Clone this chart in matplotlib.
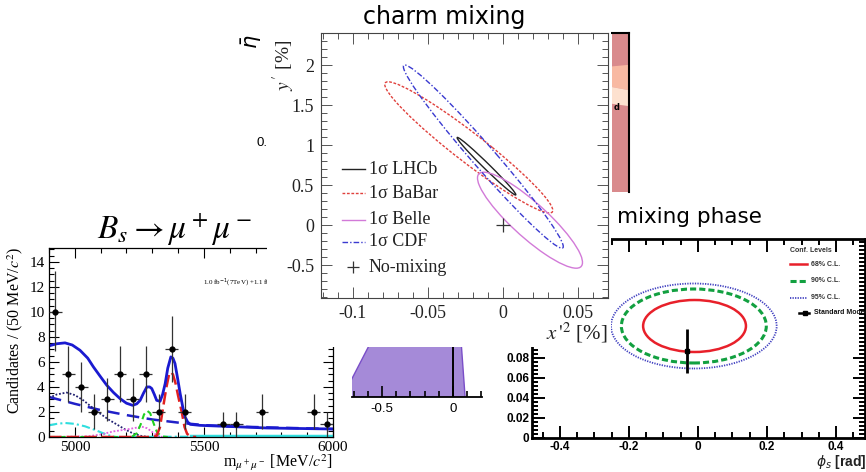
# collage of three flavour-physics results: Bs->mumu, charm mixing, mixing phase
import numpy as np
import matplotlib
matplotlib.use("Agg")
import matplotlib.pyplot as plt
from matplotlib.patches import Ellipse, Rectangle, Polygon
from matplotlib.ticker import MultipleLocator

W, H = 866, 472

# --- Bs -> mu+ mu- mass fit
bs_mass = [4925, 4975, 5025, 5075, 5125, 5175, 5225, 5275, 5325, 5375, 5425, 5575, 5625, 5725, 5925, 5975]
bs_counts = [10, 5, 4, 2, 3, 5, 3, 5, 2, 7, 2, 1, 1, 2, 2, 1]
bs_err_lo = [3.1, 2.2, 2.0, 1.4, 1.7, 2.2, 1.7, 2.2, 1.4, 2.6, 1.4, 1.0, 1.0, 1.4, 1.4, 1.0]
bs_err_hi = [3.25, 2.3, 2.0, 1.4, 1.75, 2.3, 1.75, 2.3, 1.4, 2.65, 1.4, 1.0, 1.0, 1.4, 1.4, 1.0]

fit_x = [4900, 4930, 4962, 4990, 5020, 5050, 5072, 5100, 5124, 5150, 5175, 5200, 5224, 5240,
         5253, 5266, 5279, 5290, 5298, 5308, 5317, 5330, 5340, 5350, 5360, 5372, 5380, 5388,
         5398, 5408, 5418, 5427, 5437, 5447, 5485, 5600, 5744, 5900, 6000]
fit_y = [7.28, 7.45, 7.52, 7.35, 6.93, 6.3, 5.6, 4.8, 4.13, 3.55, 3.07, 2.7, 2.53, 2.65,
         2.93, 3.5, 4.0, 4.0, 3.87, 3.4, 2.93, 2.85, 3.4, 4.27, 5.5, 6.4, 6.3, 5.87,
         4.7, 3.47, 2.4, 1.6, 1.2, 1.01, 0.93, 0.84, 0.72, 0.67, 0.64]

bsig_x = [4900, 5300, 5317, 5330, 5343, 5355, 5365, 5372, 5380, 5390, 5400, 5414, 5425, 5435, 5450, 5470]
bsig_y = [0, 0, 0.1, 0.8, 2.5, 4.0, 5.0, 5.2, 5.0, 4.3, 3.3, 2.0, 0.8, 0.25, 0.02, 0]

bd_x = [4900, 5220, 5240, 5255, 5268, 5280, 5292, 5305, 5318, 5335, 5360]
bd_y = [0, 0, 0.3, 1.0, 1.8, 2.1, 1.9, 1.1, 0.4, 0.05, 0]

misid_x = [4900, 4930, 4968, 5000, 5033, 5065, 5098, 5130, 5162, 5195, 5227, 5260, 5290]
misid_y = [3.12, 3.4, 3.55, 3.35, 2.93, 2.4, 1.87, 1.4, 1.01, 0.6, 0.27, 0.07, 0]

comb_x = [4900, 5000, 5100, 5200, 5300, 5400, 5500, 5600, 5800, 6000]
comb_y = [3.2, 2.65, 2.15, 1.75, 1.4, 1.15, 0.95, 0.85, 0.74, 0.64]

semi_x = [4900, 4930, 4962, 5000, 5040, 5080, 5110, 5136, 5160, 5450, 6000]
semi_y = [0.93, 1.05, 1.12, 1.05, 0.85, 0.55, 0.3, 0.1, 0.0, 0.03, 0.03]

peak_x = [4900, 5050, 5100, 5150, 5200, 5240, 5260, 5280, 5300, 5320, 5340]
peak_y = [0, 0.05, 0.2, 0.45, 0.6, 0.75, 0.82, 0.7, 0.4, 0.1, 0]

# --- charm mixing 1 sigma contours: centre x'^2, centre y', sigma x, sigma y, correlation
charm_names = ["LHCb", "BaBar", "Belle", "CDF"]
charm_cx = [-0.011, -0.0228, 0.018, -0.0131]
charm_cy = [0.735, 0.97, 0.06, 0.855]
charm_sx = [0.0196, 0.056, 0.035, 0.0533]
charm_sy = [0.36, 0.82, 0.6, 1.145]
charm_rho = [-0.99, -0.96, -0.88, -0.982]
charm_colors = ["#222222", "#e0403c", "#d27ad8", "#3a3ad0"]
charm_styles = ["-", (0, (2, 1.2)), "-", (0, (4, 1.5, 1, 1.5))]

# --- mixing phase confidence regions: centre phi_s, centre dGamma, width, height
cl_labels = ["68% C.L.", "90% C.L.", "95% C.L."]
cl_cx = [-0.01, -0.012, -0.012]
cl_cy = [0.112, 0.112, 0.112]
cl_w = [0.298, 0.42, 0.48]
cl_h = [0.052, 0.074, 0.085]
cl_colors = ["#e8202a", "#12a040", "#4040c0"]
cl_styles = ["-", (0, (2, 1)), (0, (0.7, 0.7))]
cl_widths = [1.8, 2.2, 1.3]
sm_phi, sm_dg, sm_err = -0.033, 0.087, 0.022

# --- purple CKM fragment and pink band fragment
ckm_x = [-0.72, -0.72, -0.47, 0.042, 0.085]
ckm_y = [0, 0.207, 1.1, 1.1, 0]
band_orange = [(0, 0.21), (1, 0.2), (1, 0.36), (0, 0.34)]
band_cream = [(0, 0.34), (1, 0.36), (1, 0.46), (0, 0.445)]


def px_axes(fig, left, top, right, bottom, zorder=1):
    ax = fig.add_axes([left / W, 1 - bottom / H, (right - left) / W, (bottom - top) / H])
    ax.set_zorder(zorder)
    return ax


def fx(x):
    return x / W


def fy(y):
    return 1 - y / H


def cov_ellipse(cx, cy, sx, sy, rho, **kw):
    cov = np.array([[sx ** 2, rho * sx * sy], [rho * sx * sy, sy ** 2]])
    vals, vecs = np.linalg.eigh(cov)
    angle = np.degrees(np.arctan2(vecs[1, 1], vecs[0, 1]))
    return Ellipse((cx, cy), 2 * np.sqrt(vals[1]), 2 * np.sqrt(vals[0]), angle=angle, fill=False, **kw)


def draw_bs(fig):
    ax = px_axes(fig, 49, 248, 333, 437, zorder=1)
    ax.errorbar(bs_mass, bs_counts, yerr=[bs_err_lo, bs_err_hi], xerr=25, fmt="o", ms=3.5,
                color="black", ecolor="#333333", elinewidth=0.9, capsize=0, zorder=5)
    ax.plot(comb_x, comb_y, color="#2020c8", lw=1.8, ls=(0, (5, 3)))
    ax.plot(misid_x, misid_y, color="#202070", lw=1.3, ls=(0, (1, 1)))
    ax.plot(semi_x, semi_y, color="#30dede", lw=1.5, ls=(0, (4, 1.5, 1, 1.5)))
    ax.plot([5450, 6000], [0.04, 0.04], color="#30dede", lw=2.5)
    ax.plot(peak_x, peak_y, color="#e060e0", lw=1.3, ls=(0, (1, 1)))
    ax.plot(bd_x, bd_y, color="#20d020", lw=1.5, ls=(0, (3, 2)))
    ax.plot(bsig_x, bsig_y, color="#e02020", lw=1.8, ls=(0, (5, 2)))
    ax.plot(fit_x, fit_y, color="#1a1ad0", lw=2)
    ax.set_xlim(4900, 6000)
    ax.set_ylim(0, 15.1)
    ax.xaxis.set_major_locator(MultipleLocator(500))
    ax.xaxis.set_minor_locator(MultipleLocator(100))
    ax.yaxis.set_major_locator(MultipleLocator(2))
    ax.yaxis.set_minor_locator(MultipleLocator(0.5))
    ax.tick_params(which="both", direction="in", top=True, right=True, width=0.8,
                   labelsize=11, labelfontfamily="Liberation Serif", pad=3)
    ax.tick_params(which="major", length=7)
    ax.tick_params(which="minor", length=3.5)
    for s in ax.spines.values():
        s.set_linewidth(0.9)
    fig.text(fx(203), fy(283), r"1.0 fb$^{-1}$(7TeV) +1.1 fb$^{-1}$(8TeV)", fontsize=5,
             family="Liberation Serif", va="center", zorder=2)
    fig.text(fx(175), fy(230), r"$B_s \rightarrow \mu^+\mu^-$", fontsize=24, ha="center",
             va="center", math_fontfamily="stix", zorder=2)
    fig.text(fx(15), fy(330), r"Candidates / (50 MeV/$c^2$)", rotation=90, fontsize=11.5,
             family="Liberation Serif", ha="center", va="center", math_fontfamily="stix", zorder=2)
    fig.text(fx(333), fy(463), r"m$_{\mu^+\mu^-}$ [MeV/$c^2$]", fontsize=11.5,
             family="Liberation Serif", ha="right", va="center", math_fontfamily="stix", zorder=2)


def draw_ckm(fig):
    ax = px_axes(fig, 352, 320, 482, 397, zorder=1)
    ax.set_xlim(-0.711, 0.204)
    ax.set_ylim(0, 1)
    ax.add_patch(Polygon(list(zip(ckm_x, ckm_y)), closed=True, facecolor="#a58ad8",
                         edgecolor="#7a4ec8", lw=1))
    ax.plot([0, 0], [0, 1.2], color="black", lw=1.4)
    for side in ["left", "top", "right"]:
        ax.spines[side].set_visible(False)
    ax.spines["bottom"].set_linewidth(1.3)
    ax.set_yticks([])
    ax.set_xticks([-0.5, 0])
    ax.set_xticklabels(["-0.5", "0"])
    ax.xaxis.set_minor_locator(MultipleLocator(0.1))
    ax.tick_params(which="both", direction="in", width=1.2, labelsize=9.5,
                   labelfontfamily="Liberation Sans")
    ax.tick_params(which="major", length=8, pad=4)
    ax.tick_params(which="minor", length=4)
    fig.text(fx(252), fy(42), r"$\bar{\eta}$", rotation=90, fontsize=15, ha="center",
             va="center", math_fontfamily="dejavusans", zorder=2)
    fig.text(fx(262), fy(143), "0.", fontsize=9.5, family="Liberation Sans", ha="center",
             va="center", zorder=2)


def draw_pink(fig):
    ax = px_axes(fig, 612, 33, 629, 192, zorder=1)
    ax.set_xlim(0, 1)
    ax.set_ylim(1, 0)
    ax.set_facecolor("#d98a8c")
    ax.add_patch(Polygon(band_orange, closed=True, facecolor="#f8b9a2", edgecolor="none"))
    ax.add_patch(Polygon(band_cream, closed=True, facecolor="#fde1cf", edgecolor="none"))
    ax.set_xticks([])
    ax.set_yticks([])
    ax.spines["left"].set_visible(False)
    ax.spines["bottom"].set_visible(False)
    ax.spines["top"].set_linewidth(1.5)
    ax.spines["right"].set_linewidth(1.5)
    ax.text(0.3, 0.47, "d", fontsize=6, fontweight="bold", ha="center", va="center")


def draw_charm(fig):
    # white sheet of the charm picture lies on top of the others
    fig.patches.append(Rectangle((fx(267), fy(347)), (611 - 267) / W, 347 / H,
                                 transform=fig.transFigure, facecolor="white",
                                 edgecolor="none", zorder=4))
    ax = px_axes(fig, 321, 33, 608, 298, zorder=5)
    for i in range(len(charm_names)):
        ax.add_patch(cov_ellipse(charm_cx[i], charm_cy[i], charm_sx[i], charm_sy[i], charm_rho[i],
                                 edgecolor=charm_colors[i], ls=charm_styles[i], lw=1.0))
    ax.plot([0], [0], marker="+", ms=10, mew=0.9, color="#333333", ls="none")
    ax.set_xlim(-0.1213, 0.07)
    ax.set_ylim(-0.9125, 2.4)
    ax.set_xticks([-0.1, -0.05, 0, 0.05])
    ax.set_xticklabels(["-0.1", "-0.05", "0", "0.05"])
    ax.set_yticks([-0.5, 0, 0.5, 1, 1.5, 2])
    ax.set_yticklabels(["-0.5", "0", "0.5", "1", "1.5", "2"])
    ax.xaxis.set_minor_locator(MultipleLocator(0.01))
    ax.yaxis.set_minor_locator(MultipleLocator(0.1))
    ax.tick_params(which="both", direction="in", top=True, right=True, width=0.7,
                   color="#555555", labelsize=13, labelfontfamily="Liberation Serif",
                   labelcolor="#222222")
    ax.tick_params(which="major", length=8, pad=5)
    ax.tick_params(which="minor", length=4)
    for s in ax.spines.values():
        s.set_linewidth(0.8)
        s.set_color("#444444")

    # hand-placed legend
    rows = [0.70, 0.40, 0.0625, -0.2125]
    for i, name in enumerate(charm_names):
        ax.plot([-0.1073, -0.092], [rows[i], rows[i]], color=charm_colors[i],
                ls=charm_styles[i], lw=1.0)
        ax.text(-0.0895, rows[i], "1\u03c3 " + name, fontsize=13, family="Liberation Serif",
                va="center", color="#222222")
    ax.plot([-0.1], [-0.525], marker="+", ms=8, mew=0.9, color="#333333", ls="none")
    ax.text(-0.0895, -0.525, "No-mixing", fontsize=13, family="Liberation Serif",
            va="center", color="#222222")

    fig.text(fx(444), fy(17), "charm mixing", fontsize=17, ha="center", va="center", zorder=6)
    fig.text(fx(284), fy(65), r"$y\,'$ [%]", rotation=90, fontsize=14, family="Liberation Serif",
             ha="center", va="center", math_fontfamily="stix", zorder=6, color="#222222")
    fig.text(fx(608), fy(333), r"$x\,'^2$ [%]", fontsize=15, family="Liberation Serif",
             ha="right", va="center", math_fontfamily="stix", zorder=6, color="#222222")


def draw_mixing_phase(fig):
    ax = px_axes(fig, 532, 239, 865, 438, zorder=1)
    for i in range(len(cl_labels)):
        ax.add_patch(Ellipse((cl_cx[i], cl_cy[i]), cl_w[i], cl_h[i], fill=False,
                             edgecolor=cl_colors[i], ls=cl_styles[i], lw=cl_widths[i]))
    ax.errorbar([sm_phi], [sm_dg], yerr=sm_err, fmt="s", ms=3, color="black", lw=2, capsize=0)
    ax.set_xlim(-0.481, 0.484)
    ax.set_ylim(0, 0.199)
    ax.set_xticks([-0.4, -0.2, 0, 0.2, 0.4])
    ax.set_xticklabels(["-0.4", "-0.2", "0", "0.2", "0.4"])
    ax.set_yticks([0, 0.02, 0.04, 0.06, 0.08])
    ax.set_yticklabels(["0", "0.02", "0.04", "0.06", "0.08"])
    ax.xaxis.set_minor_locator(MultipleLocator(0.05))
    ax.yaxis.set_minor_locator(MultipleLocator(0.004))
    ax.tick_params(which="both", direction="in", top=True, right=True, width=1.4,
                   labelsize=8.5, labelfontfamily="Liberation Sans", pad=2)
    ax.tick_params(which="major", length=9)
    ax.tick_params(which="minor", length=4.5)
    for lab in ax.get_xticklabels() + ax.get_yticklabels():
        lab.set_fontweight("bold")
    for s in ax.spines.values():
        s.set_linewidth(2)

    # legend drawn by hand in data units
    ax.text(0.267, 0.188, "Conf. Levels", fontsize=5, fontweight="bold", family="Liberation Sans",
            va="center", color="#333333")
    rows = [0.174, 0.157, 0.1405]
    for i, lab in enumerate(cl_labels):
        ax.plot([0.267, 0.316], [rows[i], rows[i]], color=cl_colors[i], ls=cl_styles[i],
                lw=cl_widths[i])
        ax.text(0.328, rows[i], lab, fontsize=5, fontweight="bold", family="Liberation Sans",
                va="center", color="#333333")
    ax.plot([0.294, 0.323], [0.125, 0.125], color="black", lw=1.8)
    ax.plot([0.309], [0.125], marker="s", ms=2.5, color="black")
    ax.text(0.335, 0.125, "Standard Model", fontsize=5, fontweight="bold",
            family="Liberation Sans", va="center", color="#111111")

    fig.text(fx(689), fy(217), "mixing phase", fontsize=15.5, ha="center", va="center", zorder=2)
    fig.text(fx(866), fy(462), r"$\phi_s$ [rad]", fontsize=10, fontweight="bold",
             family="Liberation Sans", ha="right", va="center", math_fontfamily="dejavusans",
             zorder=2, color="#222222")


def main():
    fig = plt.figure(figsize=(W / 100, H / 100), dpi=100)
    draw_mixing_phase(fig)
    draw_bs(fig)
    draw_ckm(fig)
    draw_pink(fig)
    draw_charm(fig)
    fig.savefig("out.png", dpi=100)


if __name__ == "__main__":
    main()
